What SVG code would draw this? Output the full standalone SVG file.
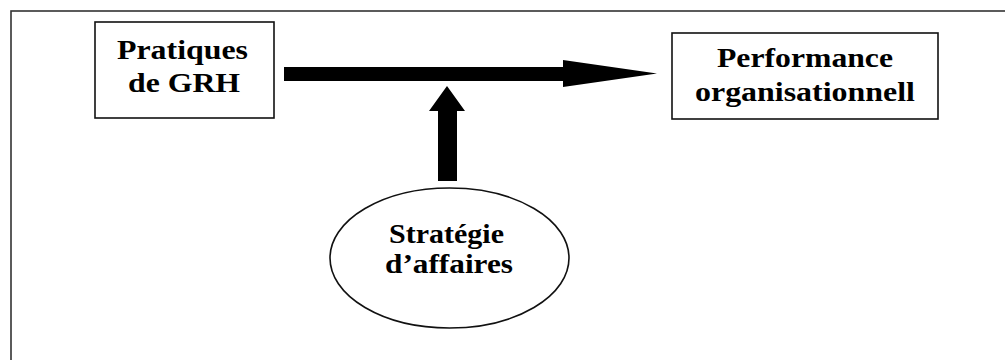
<svg xmlns="http://www.w3.org/2000/svg" width="1005" height="360" viewBox="0 0 1005 360">
<style>
.box{fill:#fff;stroke:#111;stroke-width:1.6}
.frame{fill:none;stroke:#333;stroke-width:1.6}
.lbl{font-family:"Liberation Serif","Times New Roman",serif;font-weight:bold;font-size:28px;fill:#000;text-anchor:middle}
.arr{fill:#000;stroke:none}
</style>
<rect width="1005" height="360" fill="#fff"/>
<rect class="frame" x="11" y="11" width="1010" height="370"/>
<g id="node-pratiques">
<rect class="box" x="95" y="22" width="179" height="96"/>
<text class="lbl" x="182.5" y="59" textLength="131" lengthAdjust="spacingAndGlyphs">Pratiques</text>
<text class="lbl" x="184" y="92" textLength="112" lengthAdjust="spacingAndGlyphs">de GRH</text>
</g>
<g id="node-performance">
<rect class="box" x="672" y="33" width="266" height="86"/>
<text class="lbl" x="805" y="67" textLength="176" lengthAdjust="spacingAndGlyphs">Performance</text>
<text class="lbl" x="805" y="101" textLength="220" lengthAdjust="spacingAndGlyphs">organisationnell</text>
</g>
<g id="node-strategie">
<ellipse class="box" cx="449.5" cy="258" rx="119.5" ry="70"/>
<text class="lbl" x="446.5" y="243" textLength="115" lengthAdjust="spacingAndGlyphs">Stratégie</text>
<text class="lbl" x="449" y="273" textLength="128" lengthAdjust="spacingAndGlyphs">d’affaires</text>
</g>
<g id="connectors">
<polygon class="arr" points="284,67 563,67 563,60 657,73.5 563,87 563,81 284,81"/>
<polygon class="arr" points="447,86 465,111 457,111 457,181 438,181 438,111 429,111"/>
</g>
</svg>
